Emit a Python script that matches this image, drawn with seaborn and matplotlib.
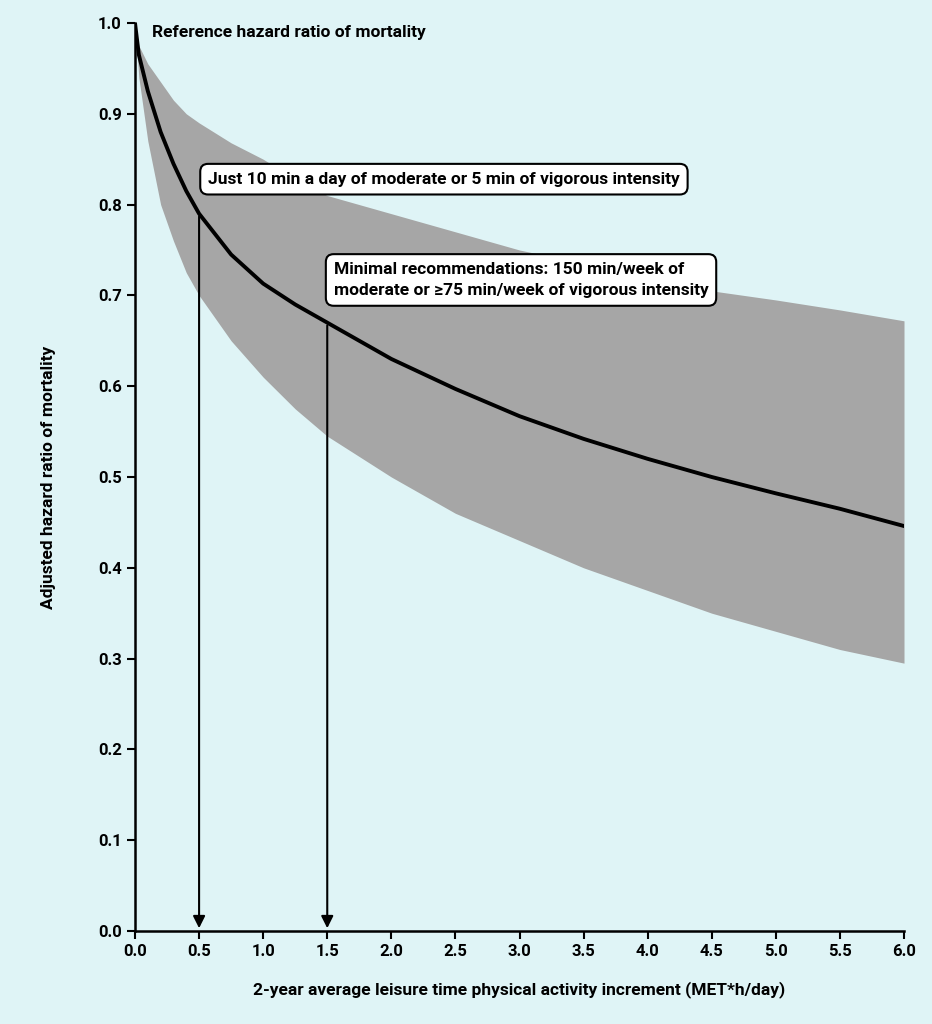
import numpy as np
import seaborn as sns
import matplotlib.pyplot as plt

# values
x_pts = [0.0, 0.03, 0.1, 0.2, 0.3, 0.4, 0.5, 0.75, 1.0, 1.25, 1.5, 2.0, 2.5, 3.0, 3.5, 4.0, 4.5, 5.0, 5.5, 6.0]
hr = [1.0, 0.965, 0.925, 0.88, 0.845, 0.815, 0.79, 0.745, 0.713, 0.69, 0.67, 0.63, 0.597, 0.567, 0.542, 0.52, 0.50, 0.482, 0.465, 0.446]
upper = [1.0, 0.975, 0.955, 0.935, 0.915, 0.90, 0.89, 0.868, 0.85, 0.828, 0.81, 0.79, 0.77, 0.75, 0.735, 0.72, 0.705, 0.695, 0.684, 0.672]
lower = [1.0, 0.94, 0.87, 0.80, 0.76, 0.725, 0.70, 0.65, 0.61, 0.575, 0.545, 0.50, 0.46, 0.43, 0.40, 0.375, 0.35, 0.33, 0.31, 0.295]
marks = [0.5, 1.5]
notes = ["Just 10 min a day of moderate or 5 min of vigorous intensity",
         "Minimal recommendations: 150 min/week of\nmoderate or \u226575 min/week of vigorous intensity"]

bg = "#dff4f6"
plt.rcParams["font.family"] = "Roboto"
plt.rcParams["font.weight"] = "bold"
fig = plt.figure(figsize=(9.32, 10.24), dpi=100, facecolor=bg)
ax = fig.add_axes([135/932, 93/1024, 769/932, 908/1024], facecolor=bg)

ax.fill_between(x_pts, lower, upper, color="#a6a6a6", lw=0)
sns.lineplot(x=x_pts, y=hr, ax=ax, color="black", lw=2.8)

for m in marks:
    yv = np.interp(m, x_pts, hr)
    ax.annotate("", xy=(m, 0), xytext=(m, yv),
                arrowprops=dict(arrowstyle="-|>", color="black", lw=1.5, mutation_scale=18))

box = dict(boxstyle="round,pad=0.45", fc="white", ec="black", lw=1.5)
ax.text(0.57, 0.828, notes[0], fontsize=12.5, fontweight="bold", va="center", bbox=box)
ax.text(1.55, 0.717, notes[1], fontsize=12.5, fontweight="bold", va="center", bbox=box, linespacing=1.5)
ax.text(0.13, 0.99, "Reference hazard ratio of mortality", fontsize=12.5, fontweight="bold", va="center")

ax.set_xlim(0, 6)
ax.set_ylim(0, 1.0)
ax.set_xticks(np.arange(0, 6.01, 0.5))
ax.set_yticks(np.arange(0, 1.01, 0.1))
ax.set_xticklabels([f"{v:.1f}" for v in np.arange(0, 6.01, 0.5)])
ax.set_yticklabels([f"{v:.1f}" for v in np.arange(0, 1.01, 0.1)])
ax.tick_params(labelsize=12, width=1.5, length=6)
for s in ["top", "right"]:
    ax.spines[s].set_visible(False)
for s in ["left", "bottom"]:
    ax.spines[s].set_linewidth(1.8)
ax.set_xlabel("2-year average leisure time physical activity increment (MET*h/day)",
              fontsize=12.5, fontweight="bold", labelpad=16)
ax.set_ylabel("Adjusted hazard ratio of mortality", fontsize=12.5, fontweight="bold", labelpad=30)

fig.savefig("out.png", dpi=100, facecolor=bg)
